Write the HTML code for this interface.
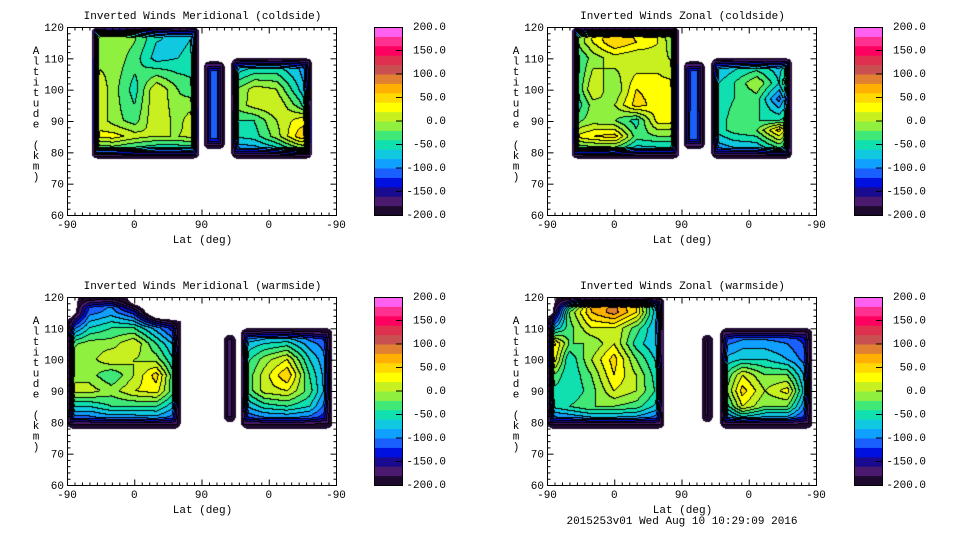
<!DOCTYPE html>
<html><head><meta charset="utf-8">
<style>
html,body{margin:0;padding:0;background:#fff;width:960px;height:540px;overflow:hidden;}
#wrap{position:relative;width:960px;height:540px;}
canvas{position:absolute;}
svg{position:absolute;left:0;top:0;}
text{font-family:"Liberation Mono",monospace;font-size:11px;fill:#000;}
</style></head>
<body>
<div id="wrap">
<svg id="ov" width="960" height="540"></svg>
</div>
<script>
// ---------- data ----------
const panelTitles = ["Inverted Winds Meridional (coldside)","Inverted Winds Zonal (coldside)","Inverted Winds Meridional (warmside)","Inverted Winds Zonal (warmside)"];
const xTickLabels = ["-90","0","90","0","-90"];
const yTickValues = [60,70,80,90,100,110,120];
const cbarLabels = ["200.0","150.0","100.0","50.0","0.0","-50.0","-100.0","-150.0","-200.0"];
const binColors = ["#1e0a2e","#4a1a6e","#1a0a90","#0010e0","#1a60ff","#10a0ff","#10c8e0","#10e0b0","#40e878","#90f040","#c8f020","#ffff00","#ffd800","#ffb000","#e08030","#c85050","#e03050","#ff0060","#ff3090","#ff60f0"];

// panel 1: meridional coldside (lat in track degrees 0..360, alt rows top->bottom)
const p1A_lat = [33,62,91,120,149,177];
const p1A_alt = [120,110,100,90,85,78];
const p1A_val = [[-20,0,-10,-50,-70,-60],[-10,-5,-30,-70,-60,-50],[30,-10,-50,20,-20,-40],[30,-10,-30,20,-10,30],[20,30,10,0,0,10],[-80,-80,-90,-100,-100,-100]];
const p1B_lat = [183,211];
const p1B_alt = [109,81];
const p1B_val = [[-110,-110],[-110,-110]];
const p1C_lat = [220,251,281,311,328];
const p1C_alt = [110,100,95,90,85,78];
const p1C_val = [[-100,-90,-80,-90,-120],[-30,10,0,-60,-100],[-20,10,20,-30,-80],[-40,-40,0,30,40],[-60,-50,-10,50,60],[-120,-120,-110,-80,-60]];

// panel 2: zonal coldside
const p2A_lat = [33,62,91,120,149,177];
const p2A_alt = [120,115,110,100,95,90,85,78];
const p2A_val = [[-60,40,60,30,20,-40],[-30,20,60,40,20,-30],[-60,-10,10,0,10,-10],[-60,20,-20,40,30,30],[-70,-10,0,50,30,30],[-30,-10,-20,-50,30,30],[20,40,50,-30,-20,-20],[-80,-90,-90,-100,-100,-100]];
const p2B_lat = [183,211];
const p2B_alt = [109,81];
const p2B_val = [[-110,-110],[-100,-100]];
const p2C_lat = [220,251,281,311,328];
const p2C_alt = [110,102,97,90,87,78];
const p2C_val = [[-100,-80,-80,-80,-40],[-70,-40,0,-60,20],[-60,-40,-30,-110,-30],[-60,-30,-40,-40,-20],[-60,-30,-20,50,-20],[-120,-110,-110,-90,-100]];

// panel 3: meridional warmside
const p3A_lat = [0,30,60,90,120,152];
const p3A_alt = [120,115,110,105,100,95,90,85,78];
const p3A_val = [[-260,-140,-110,-260,-260,-260],[-260,-110,-90,-130,-260,-260],[-130,-60,-40,-40,-90,-150],[-30,-10,-10,20,-40,-100],[-10,-10,20,0,-10,-80],[-10,-10,-40,0,50,-70],[10,10,-10,20,30,-60],[-60,-60,-40,-40,-40,-90],[-150,-150,-140,-140,-130,-150]];
const p3B_lat = [210,226];
const p3B_alt = [108,80];
const p3B_val = [[-150,-150],[-150,-150]];
const p3C_lat = [233,265,295,325,355];
const p3C_alt = [110,105,100,95,90,85,78];
const p3C_val = [[-150,-130,-130,-140,-160],[-80,-60,-50,-90,-120],[-60,-10,20,-60,-110],[-50,10,60,-40,-110],[-50,10,20,-30,-110],[-90,-50,-40,-60,-130],[-150,-150,-150,-150,-160]];

// panel 4: zonal warmside
const p4A_lat = [0,30,60,90,120,157];
const p4A_alt = [120,115,110,105,100,95,90,85,78];
const p4A_val = [[-260,-120,70,80,40,-150],[-260,-20,60,90,40,-120],[-100,-30,20,20,-30,-100],[80,-20,-20,20,-50,-90],[80,-60,0,50,-20,-80],[0,-60,-20,40,0,-70],[-40,-60,-30,20,0,-60],[-60,-40,-20,-20,-30,-80],[-150,-150,-140,-140,-140,-150]];
const p4B_lat = [207,222];
const p4B_alt = [108,80];
const p4B_val = [[-160,-160],[-160,-160]];
const p4C_lat = [232,262,292,322,355];
const p4C_alt = [110,105,100,95,90,85,78];
const p4C_val = [[-150,-130,-130,-130,-150],[-110,-90,-90,-100,-130],[-80,-60,-60,-80,-120],[-60,20,-20,-20,-110],[-50,50,0,30,-110],[-80,20,-20,-20,-130],[-150,-150,-150,-150,-160]];

const panels = [
 {x:67,y:27,blocks:[[p1A_lat,p1A_alt,p1A_val],[p1B_lat,p1B_alt,p1B_val],[p1C_lat,p1C_alt,p1C_val]]},
 {x:547,y:27,blocks:[[p2A_lat,p2A_alt,p2A_val],[p2B_lat,p2B_alt,p2B_val],[p2C_lat,p2C_alt,p2C_val]]},
 {x:67,y:297,blocks:[[p3A_lat,p3A_alt,p3A_val],[p3B_lat,p3B_alt,p3B_val],[p3C_lat,p3C_alt,p3C_val]]},
 {x:547,y:297,blocks:[[p4A_lat,p4A_alt,p4A_val],[p4B_lat,p4B_alt,p4B_val],[p4C_lat,p4C_alt,p4C_val]]}
];

const W = 269, H = 188;
const xScale = t => t / 360 * W;
const yScale = z => (120 - z) / 60 * H;

function seg(arr, v, desc){
  const n = arr.length;
  for (let i=0;i<n-1;i++){
    const a=arr[i], b=arr[i+1];
    if ((!desc && v>=a && v<=b) || (desc && v<=a && v>=b)) return [i,(v-a)/(b-a)];
  }
  return desc ? (v>arr[0]?[0,0]:[n-2,1]) : (v<arr[0]?[0,0]:[n-2,1]);
}
function interp(lat,alt,val,t,z){
  const [i,fx]=seg(lat,t,false);
  const [j,fy]=seg(alt,z,true);
  const v00=val[j][i],v01=val[j][i+1],v10=val[j+1][i],v11=val[j+1][i+1];
  return (v00*(1-fx)+v01*fx)*(1-fy)+(v10*(1-fx)+v11*fx)*fy;
}
function binOf(v){ let b=Math.floor((v+200)/20); return Math.max(0,Math.min(19,b)); }

const wrap = document.getElementById('wrap');
const ov = document.getElementById('ov');
const NS = "http://www.w3.org/2000/svg";
function mk(tag, attrs, parent){ const e=document.createElementNS(NS,tag); for (const k in attrs) e.setAttribute(k,attrs[k]); (parent||ov).appendChild(e); return e; }

panels.forEach((p, pi) => {
  const cv = document.createElement('canvas');
  cv.width=W; cv.height=H; cv.style.left=p.x+'px'; cv.style.top=p.y+'px';
  
  
  wrap.insertBefore(cv, ov);
  const ctx = cv.getContext('2d');
  const bins = new Int8Array(W*H).fill(-1);
  const edge = new Uint8Array(W*H);
  const wx = 8, wy = 11, rc = 6;
  for (let py=0; py<H; py++){
    const z = 120 - (py+0.5)/H*60;
    for (let px=0; px<W; px++){
      const t = (px+0.5)/W*360;
      for (const [lat,alt,val] of p.blocks){
        const t0=lat[0], t1=lat[lat.length-1], z1=alt[0], z0=alt[alt.length-1];
        if (t<t0||t>t1||z<z0||z>z1) continue;
        let v = interp(lat,alt,val,t,z);
        if (v < -200) break;
        const dx = Math.min((t-t0),(t1-t))*W/360, dy = Math.min((z-z0),(z1-z))*H/60;
        if (dx<rc && dy<rc && Math.hypot(rc-dx, rc-dy) > rc) break;
        const f = Math.max(dx<wx?1-dx/wx:0, dy<wy?1-dy/wy:0);
        if (f > 0) { v = v - (v+205)*f; if (Math.min(dx,dy) < 2) edge[py*W+px]=1; }
        bins[py*W+px] = binOf(v);
        break;
      }
    }
  }
  const img = ctx.createImageData(W,H);
  const rgb = binColors.map(c=>[parseInt(c.substr(1,2),16),parseInt(c.substr(3,2),16),parseInt(c.substr(5,2),16)]);
  for (let py=0; py<H; py++) for (let px=0; px<W; px++){
    const k=py*W+px, b=bins[k]; let c;
    if (b<0) c=[255,255,255];
    else {
      const r = px<W-1?bins[k+1]:b, dn = py<H-1?bins[k+W]:b;
      if (!edge[k] && ((r>=0 && r!==b) || (dn>=0 && dn!==b))) c=[0,0,0]; else c=rgb[b];
    }
    img.data[k*4]=c[0]; img.data[k*4+1]=c[1]; img.data[k*4+2]=c[2]; img.data[k*4+3]=255;
  }
  ctx.putImageData(img,0,0);

  // axes
  const g = mk('g',{});
  
  
  mk('rect',{x:p.x+0.5,y:p.y+0.5,width:W,height:H,fill:'none',stroke:'#000','stroke-width':1},g);
  for (let t=0; t<=360; t+=10){
    const x = p.x+0.5+xScale(t); const L = (t%90===0)?6:3;
    mk('line',{x1:x,x2:x,y1:p.y+H+0.5,y2:p.y+H+0.5-L,stroke:'#000'},g);
    mk('line',{x1:x,x2:x,y1:p.y+0.5,y2:p.y+0.5+L,stroke:'#000'},g);
  }
  for (let z=60; z<=120; z+=2){
    const y = p.y+0.5+yScale(z); const L = (z%10===0)?6:3;
    mk('line',{x1:p.x+0.5,x2:p.x+0.5+L,y1:y,y2:y,stroke:'#000'},g);
    mk('line',{x1:p.x+W+0.5,x2:p.x+W+0.5-L,y1:y,y2:y,stroke:'#000'},g);
  }
  xTickLabels.forEach((lab,i)=>{
    const tx = mk('text',{x:p.x+xScale(i*90),y:p.y+H+13,'text-anchor':'middle'},g);
    tx.textContent = lab;
    
    
  });
  yTickValues.forEach(z=>{
    const ty = mk('text',{x:p.x-3,y:p.y+yScale(z)+4,'text-anchor':'end'},g);
    ty.textContent = z;
    
    
  });
  const tt = mk('text',{x:p.x+W/2+1,y:p.y-8,'text-anchor':'middle','font-size':'10.5'},g);
  tt.textContent = panelTitles[pi];
  
  
  const xl = mk('text',{x:p.x+W/2+1,y:p.y+H+28,'text-anchor':'middle'},g);
  xl.textContent = 'Lat (deg)';
  
  
  const yl = mk('g',{},g);
  
  
  'Altitude (km)'.split('').forEach((ch,i)=>{
    if (ch===' ') return;
    const c = mk('text',{x:p.x-31,y:p.y+27+i*10.5,'text-anchor':'middle'},yl);
    c.textContent = ch;
  });

  // colorbar
  const cb = mk('g',{});
  
  
  const cx = p.x+307, bh = H/20;
  binColors.forEach((c,i)=>{
    const r = mk('rect',{x:cx,y:p.y+H-(i+1)*bh,width:29,height:bh+0.5,fill:c},cb);
    
    
  });
  mk('rect',{x:cx+0.5,y:p.y+0.5,width:28,height:H,fill:'none',stroke:'#000'},cb);
  cbarLabels.forEach((lab,i)=>{
    const y = p.y + i*H/8;
    if (i>0 && i<8) mk('line',{x1:cx+22,x2:cx+29,y1:y,y2:y,stroke:'#000'},cb);
    const tl = mk('text',{x:cx+72,y:y+3,'text-anchor':'end'},cb);
    tl.textContent = lab;
    
    
  });
});
const ft = mk('text',{x:682,y:524,'text-anchor':'middle','font-size':'10.5'});
ft.textContent = '2015253v01 Wed Aug 10 10:29:09 2016';


</script>
</body></html>
